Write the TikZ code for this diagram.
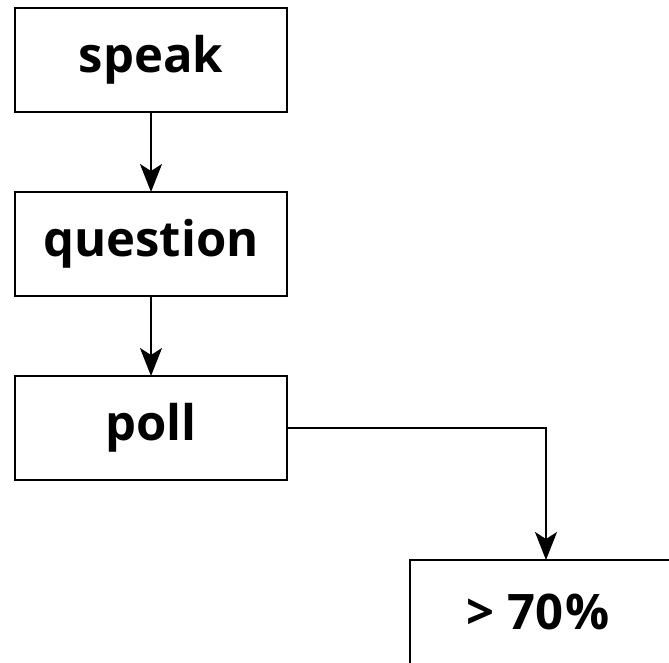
\documentclass[tikz,border=0pt]{standalone}
\usepackage{fontspec}
\setmainfont{Open Sans}
\usetikzlibrary{arrows.meta, positioning}

\begin{document}
\begin{tikzpicture}[]
\tikzset{% boxes and connectors
  block/.style={rectangle, draw, line width=2.2pt, minimum width=272pt, minimum height=104pt, inner sep=0pt,
    outer sep=0pt, font=\fontsize{49}{58}\selectfont\bfseries},
  line/.style={draw, line width=2pt, -{Stealth[length=28pt, width=22pt, inset=7pt]}},
}
\newlength{\BoxSep}
\setlength{\BoxSep}{80pt}

\useasboundingbox (0,0) rectangle (669pt,-662pt);
\clip (0,0) rectangle (669pt,-662pt);

\node[block] at (151pt,-60pt) (Speak) {speak};
\node[block, below=\BoxSep of Speak] (Question) {question};
\node[block, below=\BoxSep of Question] (Poll) {poll};
\node[block, below right=\BoxSep and 123pt of Poll] (Majority) {\hspace*{-16pt}> 70\kern2pt\%};

\draw[line] (Speak.south) -- (Question.north);
\draw[line] (Question.south) -- (Poll.north);
\draw[line] (Poll.east) -| (Majority.north);
\end{tikzpicture}
\end{document}
